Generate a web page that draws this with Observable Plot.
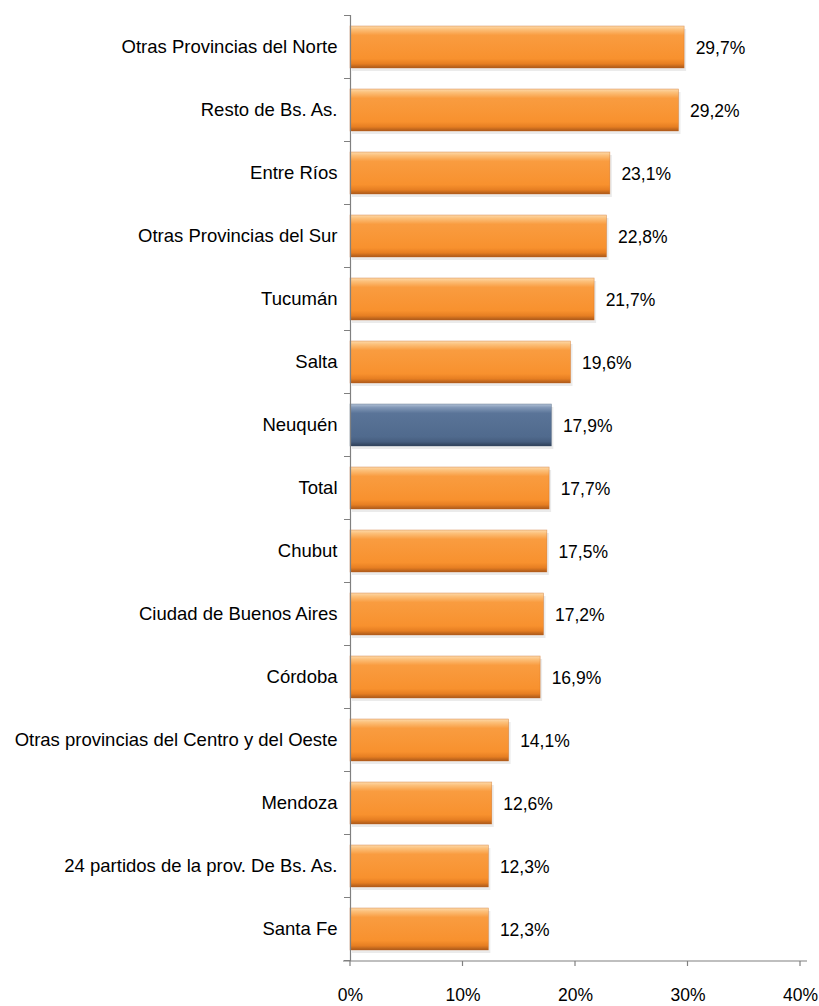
<!DOCTYPE html>
<html><head><meta charset="utf-8">
<script src="https://cdn.jsdelivr.net/npm/d3@7"></script>
<script src="https://cdn.jsdelivr.net/npm/@observablehq/plot@0.6"></script>
<style>
body{margin:0;background:#fff}
#chart svg{font-family:"Liberation Sans",Arial,sans-serif;background:#fff}
</style>
</head><body><div id="chart"></div>
<script>
const categories = [
  "Otras Provincias del Norte",
  "Resto de Bs. As.",
  "Entre Ríos",
  "Otras Provincias del Sur",
  "Tucumán",
  "Salta",
  "Neuquén",
  "Total",
  "Chubut",
  "Ciudad de Buenos Aires",
  "Córdoba",
  "Otras provincias del Centro y del Oeste",
  "Mendoza",
  "24 partidos de la prov. De Bs. As.",
  "Santa Fe"
];
const values = [29.7, 29.2, 23.1, 22.8, 21.7, 19.6, 17.9, 17.7, 17.5, 17.2, 16.9, 14.1, 12.6, 12.3, 12.3];
const highlight = "Neuquén";
const xTicks = [0, 10, 20, 30, 40];

const data = categories.map((c, i) => ({cat: c, value: values[i], hl: c === highlight}));
const fmt = v => v.toFixed(1).replace(".", ",") + "%";

function defs() {
  const g = d3.create("svg:defs");
  const mk = (id, stops) => {
    const lg = g.append("linearGradient").attr("id", id).attr("x1", 0).attr("y1", 0).attr("x2", 0).attr("y2", 1);
    stops.forEach(([o, c]) => lg.append("stop").attr("offset", o).attr("stop-color", c));
  };
  mk("gOrange", [[0, "#FDD9AA"], [0.08, "#FCC07A"], [0.22, "#F99C40"], [0.78, "#F8912E"], [0.9, "#E67E22"], [1, "#A9581A"]]);
  mk("gBlue", [[0, "#B3C2D6"], [0.08, "#8399B8"], [0.22, "#5A7498"], [0.78, "#506A8D"], [0.9, "#465D7E"], [1, "#2E3F57"]]);
  return g.node();
}

function yTicks(index, scales, values, dim) {
  const g = d3.create("svg:g").attr("stroke", "#808080").attr("stroke-width", 1);
  const y = scales.y;
  const step = y.step();
  const xL = dim.marginLeft;
  const edges = categories.map(c => y(c) - (step - y.bandwidth()) / 2);
  edges.push(edges[edges.length - 1] + step);
  edges.forEach(e => g.append("line").attr("x1", xL - 6).attr("x2", xL).attr("y1", e).attr("y2", e));
  return g.node();
}

function xLine(index, scales, values, dim) {
  const g = d3.create("svg:g").attr("stroke", "#808080").attr("stroke-width", 1.2);
  const yb = dim.height - dim.marginBottom;
  g.append("line").attr("x1", dim.marginLeft - 7).attr("x2", dim.width - dim.marginRight + 7).attr("y1", yb).attr("y2", yb);
  xTicks.forEach(t => g.append("line").attr("x1", scales.x(t)).attr("x2", scales.x(t)).attr("y1", yb).attr("y2", yb + 5));
  return g.node();
}

const chart = Plot.plot({
  width: 819,
  height: 1006,
  marginLeft: 350,
  marginRight: 19,
  marginTop: 15,
  marginBottom: 45,
  x: {domain: [0, 40], ticks: xTicks},
  y: {domain: categories, paddingInner: 0.333, paddingOuter: 0.167},
  style: {fontSize: "17px", color: "#000"},
  marks: [
    defs,
    Plot.barX(data, {y: "cat", x: "value", fill: "#000", fillOpacity: 0.08, dx: 2, dy: 3}),
    Plot.barX(data.filter(d => !d.hl), {y: "cat", x: "value", fill: "url(#gOrange)", stroke: "#C8681C", strokeWidth: 0.6, strokeOpacity: 0.6}),
    Plot.barX(data.filter(d => d.hl), {y: "cat", x: "value", fill: "url(#gBlue)", stroke: "#3E5372", strokeWidth: 0.6, strokeOpacity: 0.6}),
    Plot.text(data, {y: "cat", x: "value", text: d => fmt(d.value), textAnchor: "start", dx: 11, dy: 1, fontSize: 17.5, fill: "#000"}),
    Plot.axisY({tickSize: 0, tickPadding: 13, fontSize: 18.5, label: null}),
    Plot.axisX({ticks: xTicks, tickFormat: d => d + "%", tickSize: 0, tickPadding: 27, fontSize: 17.5, label: null}),
    Plot.ruleX([0], {stroke: "#808080", strokeWidth: 1.2}),
    yTicks,
    xLine
  ]
});
document.getElementById("chart").appendChild(chart);
</script>
</body></html>
